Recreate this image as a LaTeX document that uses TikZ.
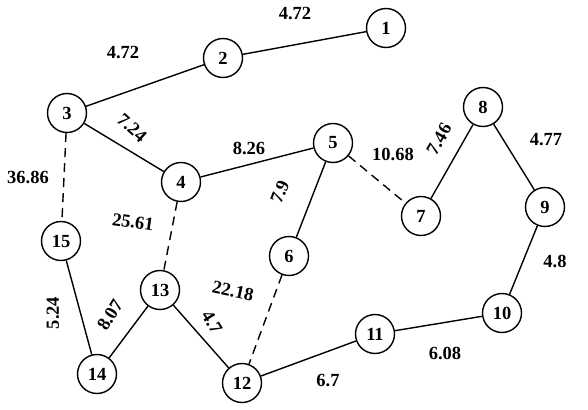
\documentclass[tikz,border=0pt]{standalone}
\usepackage{fontspec}
\setmainfont{Liberation Serif}
\begin{document}
\begin{tikzpicture}[x=1pt,y=-1pt,
  vtx/.style={circle,draw,line width=1.4pt,minimum size=39pt,inner sep=0pt,font=\fontsize{18.5}{20}\selectfont\bfseries},
  edge/.style={line width=1.4pt},
  dedge/.style={line width=1.4pt,dash pattern=on 9pt off 6pt},
  wt/.style={font=\fontsize{18.5}{20}\selectfont\bfseries,inner sep=0pt}]
\useasboundingbox (0,0) rectangle (588,409);
\node[vtx] (n1) at (386,28) {1};
\node[vtx] (n2) at (223,58) {2};
\node[vtx] (n3) at (67,113) {3};
\node[vtx] (n4) at (181,182) {4};
\node[vtx] (n5) at (333,143) {5};
\node[vtx] (n6) at (289,256) {6};
\node[vtx] (n7) at (421,216) {7};
\node[vtx] (n8) at (483,107) {8};
\node[vtx] (n9) at (545,207) {9};
\node[vtx] (n10) at (502,313) {10};
\node[vtx] (n11) at (375,334) {11};
\node[vtx] (n12) at (242,383) {12};
\node[vtx] (n13) at (160,290) {13};
\node[vtx] (n14) at (97,374) {14};
\node[vtx] (n15) at (61,241) {15};
\draw[edge] (n1) -- (n2);
\draw[edge] (n2) -- (n3);
\draw[edge] (n3) -- (n4);
\draw[edge] (n4) -- (n5);
\draw[edge] (n5) -- (n6);
\draw[edge] (n7) -- (n8);
\draw[edge] (n8) -- (n9);
\draw[edge] (n9) -- (n10);
\draw[edge] (n10) -- (n11);
\draw[edge] (n11) -- (n12);
\draw[edge] (n12) -- (n13);
\draw[edge] (n13) -- (n14);
\draw[edge] (n14) -- (n15);
\draw[dedge] (n3) -- (n15);
\draw[dedge] (n4) -- (n13);
\draw[dedge] (n5) -- (n7);
\draw[dedge] (n6) -- (n12);
\node[wt] (w1) at (295,14) {4.72};
\node[wt] (w2) at (123,53) {4.72};
\node[wt,rotate=-42] (w3) at (132,128) {7.24};
\node[wt] (w4) at (249,148) {8.26};
\node[wt] (w5) at (393,154) {10.68};
\node[wt,rotate=68] (w6) at (280,192) {7.9};
\node[wt,rotate=60] (w7) at (439,139) {7.46};
\node[wt] (w8) at (546,140) {4.77};
\node[wt] (w9) at (555,261) {4.8};
\node[wt] (w10) at (445,353) {6.08};
\node[wt] (w11) at (328,381) {6.7};
\node[wt] (w12) at (28,177) {36.86};
\node[wt,rotate=-8] (w13) at (133,222) {25.61};
\node[wt,rotate=-12] (w14) at (233,291) {22.18};
\node[wt,rotate=-58] (w15) at (212,322) {4.7};
\node[wt,rotate=58] (w16) at (110,315) {8.07};
\node[wt,rotate=90] (w17) at (53,313) {5.24};
\end{tikzpicture}
\end{document}
